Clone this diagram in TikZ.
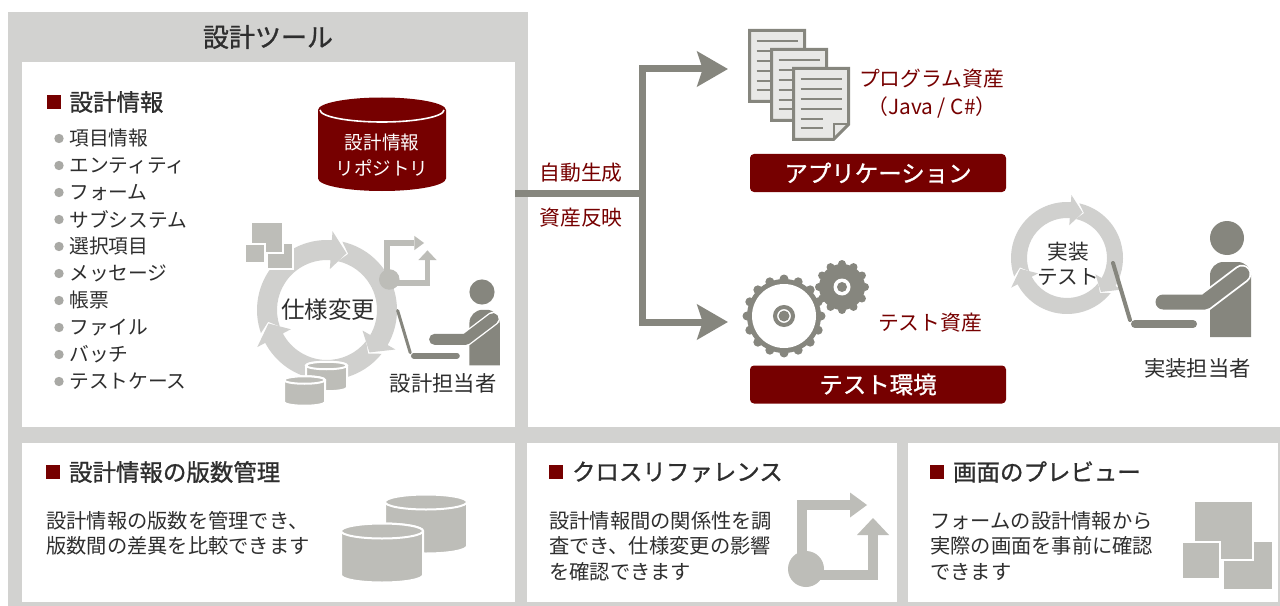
\documentclass[tikz,border=0pt]{standalone}
\usepackage{fontspec}
\setmainfont{Noto Sans CJK JP}
\newfontfamily\headfont{Noto Sans CJK JP}[FakeBold=1]
\usepackage{tikz}
\usetikzlibrary{positioning,arrows.meta}

\definecolor{frameGray}{HTML}{D2D2D0}
\definecolor{ringGray}{HTML}{D0D0CE}
\definecolor{iconGray}{HTML}{BDBDB8}
\definecolor{flowGray}{HTML}{86867E}
\definecolor{pageFill}{HTML}{E8E8E6}
\definecolor{darkRed}{HTML}{760000}
\definecolor{inkGray}{HTML}{2E2E2E}
\definecolor{dotGray}{HTML}{A9A9A5}

\tikzset{
    title/.style={font=\headfont\fontsize{19.5}{22}\selectfont, text=inkGray, inner sep=0},
    headMark/.style={fill=darkRed, minimum size=10.5pt, inner sep=0},
    headText/.style={font=\headfont\fontsize{17.6}{20}\selectfont, text=inkGray, inner sep=0, anchor=west},
    listText/.style={font=\fontsize{14.8}{17}\selectfont, text=inkGray, inner sep=0, anchor=west},
    bodyText/.style={font=\fontsize{15.2}{19.1}\selectfont, text=inkGray, inner sep=0, anchor=north west, align=left},
    redLabel/.style={font=\fontsize{15.6}{18}\selectfont, text=darkRed, inner sep=0},
    redBox/.style={fill=darkRed, rounded corners=3pt, minimum width=192pt, minimum height=28.5pt,
        text=white, font=\headfont\fontsize{17.6}{20}\selectfont, inner sep=0},
    repoText/.style={font=\fontsize{13.9}{16}\selectfont, text=white, inner sep=0},
    cycleText/.style={font=\fontsize{17.6}{20}\selectfont, text=inkGray, inner sep=0},
    whoText/.style={font=\fontsize{16}{19}\selectfont, text=inkGray, inner sep=0},
    flowLine/.style={draw=flowGray, line width=5.25pt},
    flowArrow/.style={flowLine, -{Stealth[length=23pt, width=26pt, inset=4pt]}},
}
\tikzset{
    page/.pic={
		\filldraw[fill=pageFill, draw=flowGray, line width=2.25pt] (0,0) -- (55,0) -- (55,56) -- (40,71) -- (0,71) -- cycle;
		\draw[flowGray, line width=1.5pt] (40,71) -- (40,56) -- (55,56);
		\foreach \k in {0,...,3}
			\draw[flowGray, line width=1.5pt] (7,{11+9.8*\k}) -- (48,{11+9.8*\k});
		\foreach \k in {4,5}
			\draw[flowGray, line width=1.5pt] (7,{11+9.8*\k}) -- (29,{11+9.8*\k});
	}
}
\tikzset{
    bigGear/.pic={
		\fill[flowGray] (0,0) circle (37);
		\foreach \a in {0,22.5,...,337.5}
			\fill[flowGray] (\a:37) circle (4.5);
		\fill[white] (0,0) circle (32);
		\draw[flowGray, line width=3pt] (0,0) circle (9);
		\fill[flowGray] (0,0) circle (5.5);
	},
    smallGear/.pic={
		\fill[flowGray] (0,0) circle (23);
		\foreach \a in {0,30,...,330}
			\fill[flowGray] (\a:23) circle (4);
		\fill[white] (0,0) circle (8.5);
		\fill[flowGray] (0,0) circle (5);
	}
}
\tikzset{
    cycleRing/.pic={
		% three arrows, clockwise
		\foreach \s/\e in {-199.3/-86, -77.3/30, 38.7/152}
			\fill[ringGray] (\s:70) arc[start angle=\s, end angle=\e, radius=70] -- (\e:79) -- ({\e+15}:60)
				-- (\e:41) -- (\e:50) arc[start angle=\e, end angle=\s, radius=50] -- ({\s+8}:60) -- cycle;
	}
}
\tikzset{
    person/.pic={
		\fill[flowGray] (0,0) circle (17);
		\fill[flowGray] (-17,99) {[rounded corners=10pt] -- (-17,24) -- (24,24)} -- (24,99) -- cycle;
		\draw[white, line width={14pt*#1}, line cap=round, line join=round] (15,36) -- (-22,64) -- (-64,64);
		\draw[flowGray, line width={11.25pt*#1}, line cap=round, line join=round] (15,36) -- (-22,64) -- (-64,64);
		\draw[flowGray, line width={3pt*#1}, line cap=round] (-114,25) -- (-97,82);
		\draw[flowGray, line width={6pt*#1}, line cap=round] (-92,86) -- (-34,86);
	}
}
\tikzset{
    dbPair/.pic={
		% back cylinder first, then the front one
		\foreach \cx/\cy in {85/7, 41/36}{
			\filldraw[fill=iconGray, draw=white, line width=1.5pt] ({\cx-41},\cy) -- ({\cx-41},{\cy+44})
				arc[start angle=180, end angle=0, x radius=41, y radius=7.5] -- ({\cx+41},\cy)
				arc[start angle=0, end angle=-180, x radius=41, y radius=7.5] -- cycle;
			\filldraw[fill=iconGray, draw=white, line width=1.5pt] (\cx,\cy) ellipse[x radius=41, y radius=7.5];
		}
	},
    screens/.pic={
		\filldraw[fill=iconGray, draw=white, line width=1.5pt] (41,40) rectangle (91,89);
		\filldraw[fill=iconGray, draw=white, line width=1.5pt] (12,0) rectangle (71,59);
		\filldraw[fill=iconGray, draw=white, line width=1.5pt] (0,41) rectangle (38,78);
	},
    xRef/.pic={
		\draw[iconGray, line width=#1] (0,70) -- (0,0) -- (48,0);
		\fill[iconGray] (48,-12.5) -- (65,0) -- (48,12.5) -- cycle;
		\draw[iconGray, line width=#1] (4,70) -- (71,70) -- (71,30);
		\fill[iconGray] (55,30) -- (71,13) -- (87,30) -- cycle;
		\fill[iconGray] (4,64) circle (18);
	}
}

\begin{document}
\begin{tikzpicture}[x=0.75pt, y=-0.75pt]
	\useasboundingbox (0,0) rectangle (1280,606);
	% frames
	\fill[frameGray] (8,12) rectangle (528,443);
	\fill[frameGray] (8,427) rectangle (1280,606);
	\fill[white] (22,62) rectangle (515,427);
	\fill[white] (22,443) rectangle (515,602);
	\fill[white] (527,443) rectangle (897,602);
	\fill[white] (908,443) rectangle (1278,602);

	\node[title] (toolTitle) at (268,37) {設計ツール};

	% design info items
	\node[headMark] (infoMark) at (53.5,102) {};
	\node[headText, right=6.4pt of infoMark] (infoHead) {設計情報};
	\foreach \entry [count=\i] in {項目情報,エンティティ,フォーム,サブシステム,選択項目,メッセージ,帳票,ファイル,バッチ,テストケース}{
		\fill[dotGray] (59,{111.5+27*\i}) circle (4.7);
		\node[listText] (entry\i) at (69,{111.5+27*\i}) {\entry};
	}

	% repository
	\fill[darkRed] (318,110) -- (318,178.5) arc[start angle=180, end angle=0, x radius=64, y radius=12.5]
		-- (446,110) arc[start angle=0, end angle=-180, x radius=64, y radius=12.5] -- cycle;
	\draw[white, line width=1.2pt] (320,110) arc[start angle=180, end angle=0, x radius=62, y radius=12];
	\node[repoText] (repoName) at (382,142) {設計情報};
	\node[repoText] (repoKind) at (382,168) {リポジトリ};

	% spec change loop
	\pic at (327,310) {cycleRing};
	\pic[scale=0.53] at (245,222) {screens};
	\pic[scale=0.57] at (387,243) {xRef=4.3pt};
	\pic[scale=0.5] at (284,362) {dbPair};
	\node[cycleText] (specChange) at (328,310) {仕様変更};
	\pic[scale=0.74] at (482,292) {person=0.74};
	\node[whoText] (designer) at (443,383) {設計担当者};

	% generation flow
	\coordinate (toolOut) at (515,193);
	\coordinate (fork) at (642,193);
	\coordinate (appIn) at (728,69);
	\coordinate (testIn) at (728,322);
	\draw[flowLine] (toolOut) -- (fork);
	\draw[flowArrow] (fork) |- (appIn);
	\draw[flowArrow] (fork) |- (testIn);
	\node[redLabel] (autoGen) at (581,173) {自動生成};
	\node[redLabel] (assetSync) at (581,218) {資産反映};

	% application
	\pic at (749.5,30.5) {page};
	\pic at (771.5,49.5) {page};
	\pic at (793.5,68.5) {page};
	\node[redLabel] (progAsset) at (931.5,79) {プログラム資産};
	\node[redLabel] (progLang) at (932,107) {（Java / C\#）};
	\node[redBox] (appBox) at (878,173) {アプリケーション};

	% test environment
	\pic at (784,316) {bigGear};
	\pic at (842,287) {smallGear};
	\node[redLabel] (testAsset) at (930,323) {テスト資産};
	\node[redBox] (testBox) at (878,384.5) {テスト環境};

	% implementation loop
	\pic[scale=0.8] at (1067,258) {cycleRing};
	\node[cycleText, font=\fontsize{15.5}{18.5}\selectfont, align=center] (implTest) at (1068,264) {実装\\テスト};
	\pic at (1227,238) {person=1};
	\node[whoText] (implementer) at (1197.5,368) {実装担当者};

	% feature panels
	\node[headMark] (verMark) at (53,472) {};
	\node[headText, right=6.4pt of verMark] (verHead) {設計情報の版数管理};
	\node[bodyText] (verBody) at (46,511) {設計情報の版数を管理でき、\\版数間の差異を比較できます};
	\pic at (341,495) {dbPair};

	\node[headMark] (refMark) at (556,472) {};
	\node[headText, right=6.4pt of refMark] (refHead) {クロスリファレンス};
	\node[bodyText] (refBody) at (549,511) {設計情報間の関係性を調\\査でき、仕様変更の影響\\を確認できます};
	\pic at (802,505) {xRef=7.5pt};

	\node[headMark] (prevMark) at (937,472) {};
	\node[headText, right=6.4pt of prevMark] (prevHead) {画面のプレビュー};
	\node[bodyText] (prevBody) at (930,511) {フォームの設計情報から\\実際の画面を事前に確認\\できます};
	\pic at (1182,501) {screens};
\end{tikzpicture}
\end{document}
